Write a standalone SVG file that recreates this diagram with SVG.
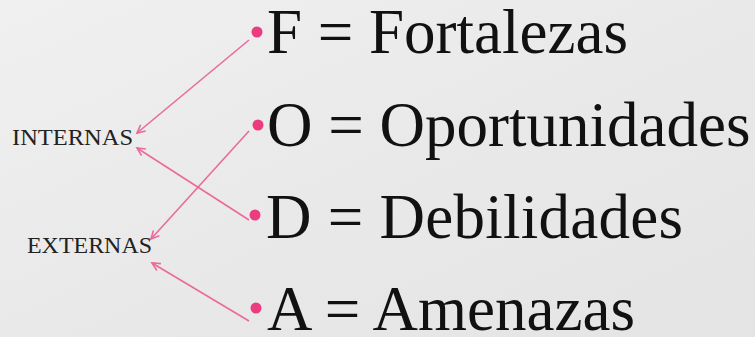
<svg xmlns="http://www.w3.org/2000/svg" width="755" height="337" viewBox="0 0 755 337">
  <defs>
    <linearGradient id="bg" x1="0" y1="0" x2="1" y2="1">
      <stop offset="0" stop-color="#f0f0f0"/>
      <stop offset="0.5" stop-color="#e9e9e9"/>
      <stop offset="1" stop-color="#e4e4e4"/>
    </linearGradient>
    <marker id="arr" markerWidth="12" markerHeight="12" refX="9" refY="5" orient="auto" markerUnits="userSpaceOnUse">
      <path d="M1,1 L9,5 L1,9" fill="none" stroke="#ea6b9a" stroke-width="1.6"/>
    </marker>
    <style>
      text { font-family: 'Liberation Serif', 'Times New Roman', serif; }
      .big { font-size: 63px; fill: #111; }
      .small { font-size: 24px; fill: #222; }
      .dot { fill: #ea3c7e; }
      .conn { stroke: #ea6b9a; stroke-width: 1.6; fill: none; marker-end: url(#arr); }
    </style>
  </defs>
  <rect width="755" height="337" fill="url(#bg)"/>

  <g id="connectors">
    <line class="conn" x1="249" y1="40" x2="137" y2="133"/>
    <line class="conn" x1="249" y1="220" x2="137" y2="148"/>
    <line class="conn" x1="249" y1="131" x2="151" y2="239"/>
    <line class="conn" x1="249" y1="321" x2="152" y2="263"/>
  </g>

  <g id="internas"><text class="small" x="12" y="145" textLength="121" lengthAdjust="spacingAndGlyphs">INTERNAS</text></g>
  <g id="externas"><text class="small" x="27" y="253" textLength="125" lengthAdjust="spacingAndGlyphs">EXTERNAS</text></g>

  <g id="f"><circle class="dot" cx="257" cy="32" r="5.5"/><text class="big" x="267" y="53">F = Fortalezas</text></g>
  <g id="o"><circle class="dot" cx="258" cy="125" r="5.5"/><text class="big" x="267" y="146">O = Oportunidades</text></g>
  <g id="d"><circle class="dot" cx="255" cy="215" r="5.5"/><text class="big" x="266" y="238" textLength="417" lengthAdjust="spacing">D = Debilidades</text></g>
  <g id="a"><circle class="dot" cx="256" cy="308" r="5.5"/><text class="big" x="267" y="330">A = Amenazas</text></g>
</svg>
